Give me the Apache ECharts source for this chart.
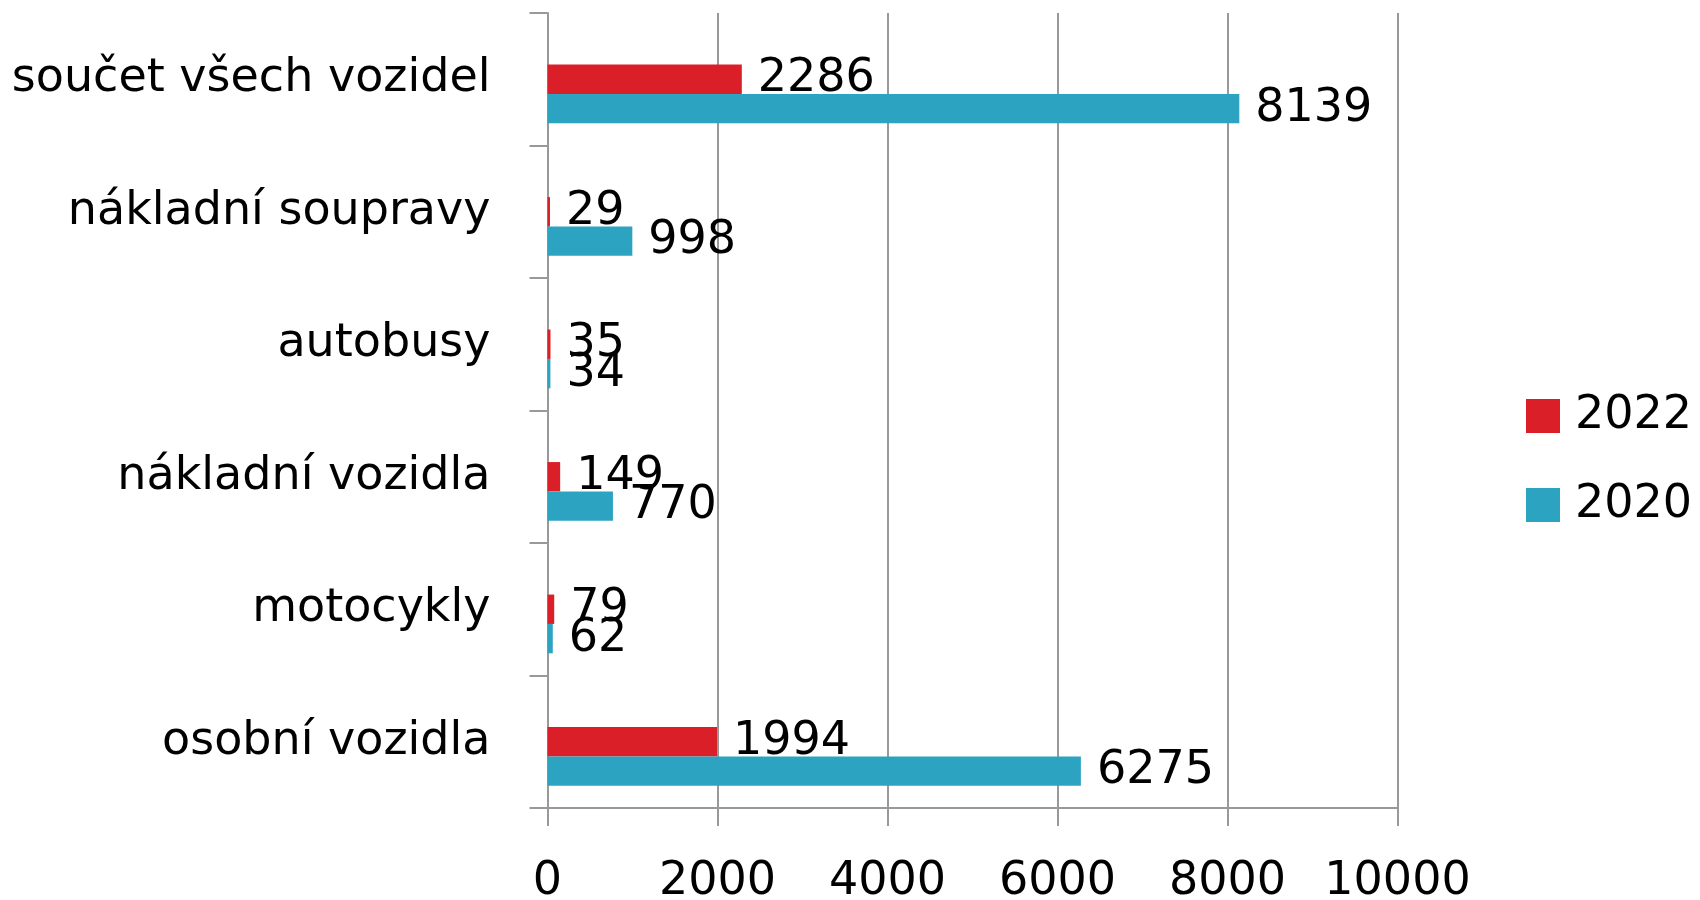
<!DOCTYPE html>
<html>
<head>
<meta charset="utf-8">
<script src="https://cdn.jsdelivr.net/npm/echarts@6/dist/echarts.min.js"></script>
<style>html,body{margin:0;padding:0;background:#fff}#c{width:1700px;height:900px}</style>
</head>
<body>
<div id="c"></div>
<script>
// categories listed bottom-to-top (ECharts category y axis starts at the bottom)
const categories = ['osobní vozidla', 'motocykly', 'nákladní vozidla', 'autobusy', 'nákladní soupravy', 'součet všech vozidel'];
const values2022 = [1994, 79, 149, 35, 29, 2286];
const values2020 = [6275, 62, 770, 34, 998, 8139];
const spacer = [null, null, null, null, null, null];
const xTicks = { min: 0, max: 10000, interval: 2000 };

const FONT = 'DejaVu Sans';
const GRAY = '#999999';

const chart = echarts.init(document.getElementById('c'), null, { renderer: 'canvas' });
chart.setOption({
  animation: false,
  backgroundColor: '#ffffff',
  textStyle: { fontFamily: FONT },
  grid: { left: 547.5, right: 302.5, top: 13, bottom: 92, containLabel: false, outerBoundsMode: 'none' },
  legend: {
    data: ['2022', '2020'],
    orient: 'vertical',
    left: 1521,
    top: 388,
    itemWidth: 34,
    itemHeight: 34,
    itemGap: 43,
    icon: 'rect',
    textStyle: { fontFamily: FONT, fontSize: 46, color: '#000', padding: [0, 0, 10, 10] }
  },
  xAxis: {
    type: 'value',
    min: xTicks.min, max: xTicks.max, interval: xTicks.interval,
    axisLine: { show: true, lineStyle: { color: GRAY, width: 2 } },
    axisTick: { show: true, length: 18, lineStyle: { color: GRAY, width: 2 } },
    splitLine: { show: true, lineStyle: { color: GRAY, width: 2 } },
    axisLabel: { fontFamily: FONT, fontSize: 46, color: '#000', margin: 51, formatter: v => String(v) }
  },
  yAxis: {
    type: 'category',
    data: categories,
    axisLine: { show: true, lineStyle: { color: GRAY, width: 2 } },
    axisTick: { show: true, length: 18, lineStyle: { color: GRAY, width: 2 } },
    splitLine: { show: false },
    axisLabel: { fontFamily: FONT, fontSize: 46, color: '#000', margin: 57, padding: [0, 0, 21, 0] }
  },
  series: [
    {
      name: 'spacer', type: 'bar', data: spacer, barGap: '0%', barCategoryGap: '33.5%',
      itemStyle: { color: 'rgba(0,0,0,0)' }, silent: true
    },
    {
      name: '2022', type: 'bar', data: values2022, barGap: '0%', barCategoryGap: '33.5%',
      itemStyle: { color: '#DA1F28' },
      label: { show: true, position: 'right', distance: 16, fontFamily: FONT, fontSize: 46, color: '#000', padding: [12, 0, 0, 0] }
    },
    {
      name: '2020', type: 'bar', data: values2020, barGap: '0%', barCategoryGap: '33.5%',
      itemStyle: { color: '#2CA3C0' },
      label: { show: true, position: 'right', distance: 16, fontFamily: FONT, fontSize: 46, color: '#000', padding: [12, 0, 0, 0] }
    }
  ]
});
</script>
</body>
</html>
